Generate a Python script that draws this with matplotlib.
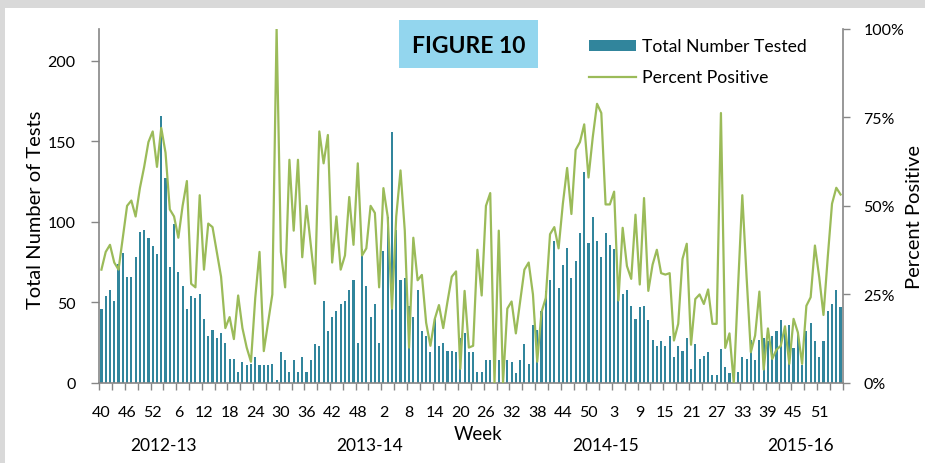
import matplotlib
matplotlib.use("Agg")
import matplotlib.pyplot as plt
from matplotlib.patches import Rectangle, Patch
from matplotlib.lines import Line2D
from matplotlib.transforms import blended_transform_factory
import numpy as np

plt.rcParams['font.family'] = ['Lato', 'DejaVu Sans']

# ---------------- data (weekly, 2012 wk40 .. 2016 wk4) ----------------
total_tested = [
    46, 54, 58, 51, 74, 81, 66, 66, 78, 94, 95, 90, 85, 80, 166, 127, 72, 99, 69, 60,
    46, 54, 53, 55, 40, 29, 33, 28, 31, 25, 15, 15, 7, 13, 11, 12, 16, 11, 11, 11,
    12, 2, 19, 14, 7, 14, 7, 16, 7, 14, 24, 23, 51, 32, 41, 45, 49, 51, 58, 64,
    25, 83, 60, 41, 49, 25, 82, 103, 156, 95, 64, 65, 48, 41, 58, 32, 29, 19, 40, 23,
    25, 20, 20, 19, 28, 31, 19, 19, 7, 7, 14, 14, 0, 14, 0, 14, 13, 6, 14, 24,
    12, 36, 33, 45, 57, 64, 88, 59, 73, 84, 65, 76, 93, 131, 87, 103, 88, 78, 93, 86,
    83, 57, 55, 58, 48, 40, 47, 48, 39, 27, 23, 26, 23, 29, 16, 23, 20, 28, 9, 24,
    15, 17, 19, 5, 5, 21, 10, 6, 0, 7, 16, 15, 27, 14, 27, 28, 26, 29, 32, 39,
    33, 36, 22, 31, 11, 32, 37, 26, 16, 26, 45, 49, 58, 47,
]

percent_positive = [
    32, 37, 39, 34, 32, 41, 50, 51.5, 47, 55, 61, 68, 71, 61, 72, 65, 49, 47, 41, 50,
    57, 28, 27, 53, 32, 45, 44, 37, 30, 15.5, 18.6, 12.4, 24.7, 15.5, 10, 6, 24, 37, 9, 17,
    25, 100, 37, 27, 63, 43, 63, 35.5, 50, 39, 28, 71, 62, 70, 34, 47, 32, 36, 52.5, 39,
    62, 36, 38, 50, 48, 27, 55, 47, 21, 47, 60, 43, 10, 41, 29, 30.5, 17, 10.5, 18, 22,
    15.5, 23, 30, 31.5, 4, 26, 10, 10.5, 37.6, 24.7, 50, 53.6, 0, 43, 0, 21, 23, 14, 23, 32,
    34, 25, 6, 20, 24, 42, 44, 38, 50.6, 60.7, 47.7, 65.8, 68, 73, 58, 69.4, 78.8, 76.2, 50.4, 50.4,
    54, 23.3, 43.8, 33, 29.4, 47.5, 27.8, 52.2, 26, 33.4, 37.6, 31, 30.6, 31, 12, 16.7, 35, 39.3, 10.8, 23.7,
    25, 22.3, 26.4, 16.7, 16.7, 76.2, 9.9, 14, 0, 27, 53, 30, 8.7, 13.4, 25.8, 3.8, 15.4, 6.8, 9.4, 10.5,
    16, 5.4, 18.1, 14.3, 5.4, 21.8, 24.2, 38.8, 29.9, 19.2, 35.5, 50.6, 55.1, 53.2,
]

week_tick_labels = ['40', '46', '52', '6', '12', '18', '24', '30', '36', '42', '48', '2', '8', '14',
                    '20', '26', '32', '38', '44', '50', '3', '9', '15', '21', '27', '33', '39', '45', '51']
season_labels = ['2012-13', '2013-14', '2014-15', '2015-16']
season_centers = [14.5, 62.7, 118, 163.6]

left_ticks = [0, 50, 100, 150, 200]
right_ticks = [0, 25, 50, 75, 100]

# ---------------- style ----------------
BAR_COLOR = '#31859C'
LINE_COLOR = '#9BBB59'
AXIS_COLOR = '#868686'
FRAME_COLOR = '#D9D9D9'
TITLE_BG = '#93D6EE'

W, H = 925, 464
fig = plt.figure(figsize=(W / 100, H / 100), dpi=100)

def fx(px):
    return px / W

def fy(py):
    return 1 - py / H

# outer frame bands
fig.patches.append(Rectangle((0, fy(9)), 1, 9 / H, transform=fig.transFigure,
                             facecolor=FRAME_COLOR, edgecolor='none', zorder=0))
fig.patches.append(Rectangle((0, 0), fx(4.5), 1, transform=fig.transFigure,
                             facecolor=FRAME_COLOR, edgecolor='none', zorder=0))

ax_l, ax_r, ax_t, ax_b = 99.3, 842.7, 29.7, 384.0
ax = fig.add_axes([fx(ax_l), fy(ax_b), (ax_r - ax_l) / W, (ax_b - ax_t) / H])
x = np.arange(len(total_tested))
ax.bar(x, total_tested, width=0.5, color=BAR_COLOR, zorder=2)
ax.set_xlim(-0.5, len(x) - 0.5)
ax.set_ylim(0, 220)
ax.set_yticks(left_ticks)
ax.set_yticklabels([str(v) for v in left_ticks])

label_pos = np.arange(0, len(x), 6)
ax.set_xticks(label_pos)
ax.set_xticklabels(week_tick_labels)
ax.set_xticks(np.arange(-0.5, len(x), 3), minor=True)
ax.tick_params(axis='x', which='major', length=0, pad=16, labelsize=11.5)
ax.tick_params(axis='x', which='minor', length=5, width=1, color=AXIS_COLOR, direction='out')
ax.tick_params(axis='y', which='major', length=6, width=1, color=AXIS_COLOR, pad=11, labelsize=11.5)

for side in ['top', 'right']:
    ax.spines[side].set_visible(False)
for side in ['left', 'bottom']:
    ax.spines[side].set_color(AXIS_COLOR)
    ax.spines[side].set_linewidth(1.2)

ax2 = ax.twinx()
ax2.plot(x, percent_positive, color=LINE_COLOR, lw=1.6, zorder=3)
ax2.set_ylim(0, 100)
ax2.set_yticks(right_ticks)
ax2.set_yticklabels([f'{v}%' for v in right_ticks])
ax2.tick_params(axis='y', length=5, width=1, color=AXIS_COLOR, pad=10, labelsize=11.5)
for side in ['top', 'left', 'bottom']:
    ax2.spines[side].set_visible(False)
ax2.spines['right'].set_color(AXIS_COLOR)
ax2.spines['right'].set_linewidth(1.2)

# axis titles
fig.text(fx(36), fy(210), 'Total Number of Tests', rotation=90, ha='center', va='center', fontsize=14.5)
fig.text(fx(915), fy(217), 'Percent Positive', rotation=90, ha='center', va='center', fontsize=14.5)

trans = blended_transform_factory(ax.transData, fig.transFigure)
for lab, cx in zip(season_labels, season_centers):
    ax.text(cx, fy(446), lab, transform=trans, ha='center', va='center', fontsize=12.5)
fig.text(fx(478), fy(435), 'Week', ha='center', va='center', fontsize=13.5)

# title box
fig.patches.append(Rectangle((fx(399), fy(69.3)), (537.7 - 399) / W, (69.3 - 21) / H,
                             transform=fig.transFigure, facecolor=TITLE_BG, edgecolor='none', zorder=5))
fig.text(fx(468.3), fy(46.5), 'FIGURE 10', ha='center', va='center', fontsize=16.5,
         fontweight='bold', zorder=6)

# legend
fs = 12.7
fs_px = fs * 100 / 72
handles = [Patch(facecolor=BAR_COLOR, edgecolor='none', label='Total Number Tested'),
           Line2D([], [], color=LINE_COLOR, lw=1.6, label='Percent Positive')]
ax2.legend(handles=handles, loc='upper left', bbox_to_anchor=(fx(589), fy(39.5)),
           bbox_transform=fig.transFigure, frameon=False, fontsize=fs,
           borderpad=0, borderaxespad=0, handlelength=47 / fs_px, handleheight=10.7 / fs_px,
           handletextpad=6 / fs_px, labelspacing=0.85)

fig.savefig('out.png', dpi=100)
